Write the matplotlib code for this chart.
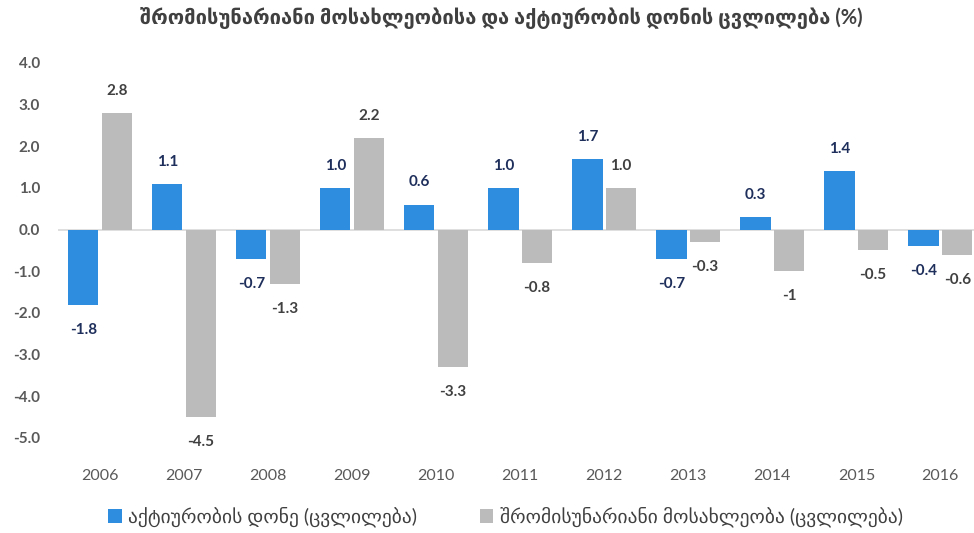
import matplotlib
matplotlib.use("Agg")
import matplotlib.pyplot as plt
import numpy as np

# ფონტი: ციფრები Lato-თი, ქართული ასოები DejaVu-დან
plt.rcParams['font.family'] = ['Lato', 'DejaVu Sans']

YEARS = ['2006', '2007', '2008', '2009', '2010', '2011', '2012', '2013', '2014', '2015', '2016']
ACTIVITY = [-1.8, 1.1, -0.7, 1.0, 0.6, 1.0, 1.7, -0.7, 0.3, 1.4, -0.4]
WORKFORCE = [2.8, -4.5, -1.3, 2.2, -3.3, -0.8, 1.0, -0.3, -1.0, -0.5, -0.6]
WORKFORCE_LABELS = ['2.8', '-4.5', '-1.3', '2.2', '-3.3', '-0.8', '1.0', '-0.3', '-1', '-0.5', '-0.6']
Y_TICKS = [4.0, 3.0, 2.0, 1.0, 0.0, -1.0, -2.0, -3.0, -4.0, -5.0]

TITLE = 'შრომისუნარიანი მოსახლეობისა და აქტიურობის დონის ცვლილება (%)'
LEG_ACT = 'აქტიურობის დონე (ცვლილება)'
LEG_WF = 'შრომისუნარიანი მოსახლეობა (ცვლილება)'

BLUE, GRAY = '#2F8DE0', '#BBBBBB'
BLUE_TXT, GRAY_TXT, AXIS_TXT = '#1F2F5C', '#404040', '#595959'

fig = plt.figure(figsize=(9.74, 5.33), dpi=100, facecolor='white')
ax = fig.add_axes([58/974, 1-438/533, 1-58/974, (438-63)/533])

x = np.arange(len(YEARS))
w, off = 0.36, 0.2
b1 = ax.bar(x - off, ACTIVITY, w, color=BLUE, zorder=2)
b2 = ax.bar(x + off, WORKFORCE, w, color=GRAY, zorder=2)
ax.axhline(0, color='#D9D9D9', lw=1.2, zorder=1)

for rect, v in zip(b1, ACTIVITY):
    ax.annotate(f'{v:.1f}', (rect.get_x() + rect.get_width()/2, v),
                xytext=(0, 16 if v >= 0 else -18), textcoords='offset points',
                ha='center', va='center', fontsize=11, fontweight='bold',
                color=BLUE_TXT, annotation_clip=False)
for rect, v, lab in zip(b2, WORKFORCE, WORKFORCE_LABELS):
    ax.annotate(lab, (rect.get_x() + rect.get_width()/2, v),
                xytext=(0, 16 if v >= 0 else -18), textcoords='offset points',
                ha='center', va='center', fontsize=11, fontweight='bold',
                color=GRAY_TXT, annotation_clip=False)

ax.set_xlim(-0.5, 10.4)
ax.set_ylim(-5, 4)
ax.set_xticks(x)
ax.set_xticklabels(YEARS)
ax.set_yticks(Y_TICKS)
ax.set_yticklabels([f'{t:.1f}' for t in Y_TICKS])
ax.tick_params(axis='both', length=0, labelsize=11, labelcolor=AXIS_TXT)
ax.tick_params(axis='x', pad=22, labelsize=11.5)
ax.tick_params(axis='y', pad=13)
for lab in ax.get_yticklabels():
    lab.set_fontweight('bold')
for s in ax.spines.values():
    s.set_visible(False)

fig.text(0.515, 1-18/533, TITLE, ha='center', va='center', fontsize=14.5,
         fontweight='bold', color=GRAY_TXT)

leg = fig.legend([b1, b2], [LEG_ACT, LEG_WF], loc='center', bbox_to_anchor=(0.519, 1-517/533),
                 ncol=2, frameon=False, fontsize=14, handlelength=0.7, handleheight=0.8,
                 handletextpad=0.35, columnspacing=3.2)
for t in leg.get_texts():
    t.set_color(GRAY_TXT)

fig.savefig('out.png', dpi=100, facecolor='white')
